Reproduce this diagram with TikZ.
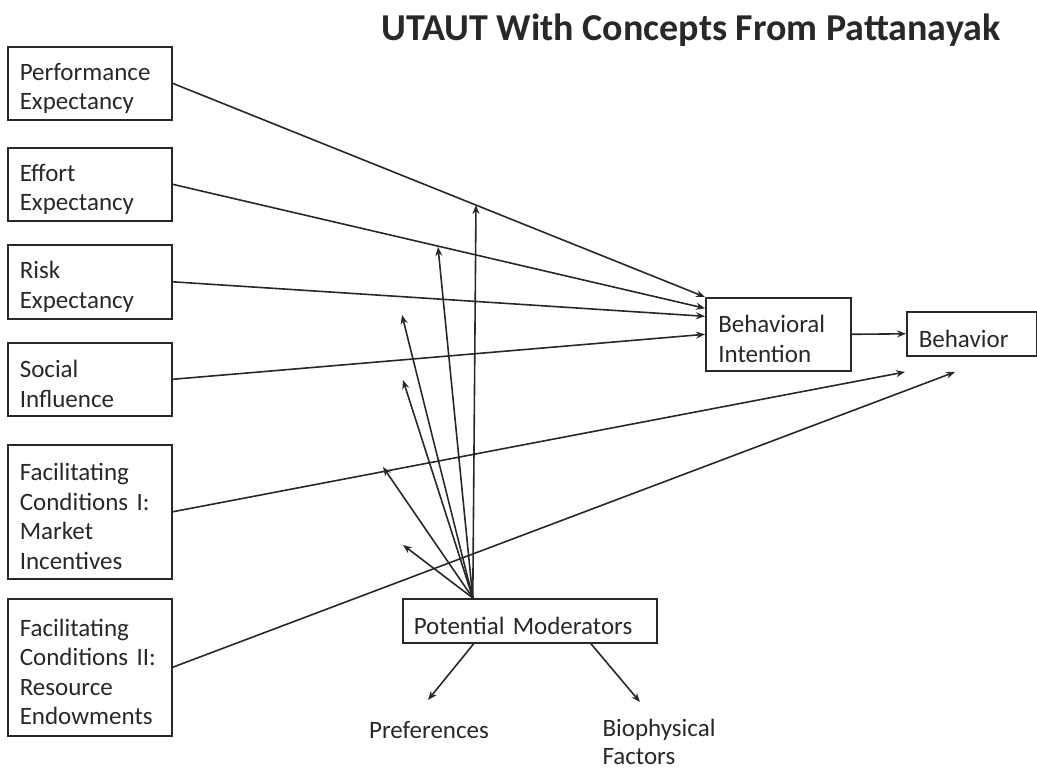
\documentclass[tikz,border=0pt]{standalone}
\usepackage{fontspec}
\setmainfont{Carlito}
\usetikzlibrary{arrows.meta}
\definecolor{inkgray}{RGB}{40,40,40}
\tikzset{
    construct-box/.style = {draw=inkgray, line width=1.6pt, rectangle, anchor=north west, align=left, text=inkgray, inner xsep=12pt, inner ysep=0pt, font=\fontsize{25}{29.5}\selectfont, execute at begin node={\rule{0pt}{27pt}}},
    plain-label/.style = {text=inkgray, align=left, font=\fontsize{25}{28}\selectfont},
    path-arrow/.style = {draw=inkgray, line width=1.6pt, -{Stealth[length=9pt,width=7pt]}},
}

\begin{document}
\begin{tikzpicture}[x=1pt,y=-1pt]
\useasboundingbox (0,0) rectangle (1037,770);
\node[text=inkgray, font=\fontsize{38}{44}\selectfont\bfseries] (title) at (691,30) {UTAUT With Concepts From Pattanayak};

% constructs on the left
\node[construct-box, text width=140pt, minimum height=73pt] (perf) at (7,46) {Performance\\Expectancy};
\node[construct-box, text width=140pt, minimum height=73pt] (effort) at (7,147) {Effort\\Expectancy};
\node[construct-box, text width=140pt, minimum height=74pt] (risk) at (7,244) {Risk\\Expectancy};
\node[construct-box, text width=140pt, minimum height=73pt] (social) at (7,342) {Social\\Influence};
\node[construct-box, text width=140pt, minimum height=134pt] (facil-one) at (7,444) {Facilitating\\Conditions I:\\Market\\Incentives};
\node[construct-box, text width=140pt, minimum height=137pt] (facil-two) at (7,598) {Facilitating\\Conditions II:\\Resource\\Endowments};

% outcomes
\node[construct-box, text width=120pt, inner xsep=12.5pt, minimum height=73pt] (intent) at (705,297) {Behavioral\\Intention};
\node[construct-box, text width=106pt, minimum height=44pt] (behavior) at (906,311) {Behavior};

% moderators
\node[construct-box, text width=232pt, inner xsep=11pt, minimum height=44pt] (moder) at (402,598) {Potential Moderators};
\node[plain-label] (pref) at (429,730) {Preferences};
\node[plain-label, anchor=west] (bio) at (599,742) {Biophysical\\Factors};

\draw[path-arrow] (perf.east) -- (intent.north west);
\draw[path-arrow] (effort.east) -- ([yshift=26pt]intent.west);
\draw[path-arrow] (risk.east) -- ([yshift=18pt]intent.west);
\draw[path-arrow] (social.east) -- (intent.west);
\draw[path-arrow] (intent.east) -- (behavior.west);

\coordinate (behav-in) at (905,372);
\coordinate (behav-res) at (955,372);
\draw[path-arrow] (facil-one.east) -- (behav-in);
\draw[path-arrow] (facil-two.east) -- (behav-res);

\coordinate (mod-src) at ([xshift=-57pt]moder.north);
\foreach \nm/\px/\py in {a/476/205, b/438/247, c/402/315, d/403/380, e/383/467, f/403/545}
    \coordinate (mod-\nm) at (\px,\py);
\foreach \nm in {a,b,c,d,e,f}
    \draw[path-arrow] (mod-src) -- (mod-\nm);

\coordinate (pref-tip) at (428,700);
\coordinate (bio-tip) at (640,702);
\draw[path-arrow] ([xshift=-56pt]moder.south) -- (pref-tip);
\draw[path-arrow] ([xshift=61pt]moder.south) -- (bio-tip);
\end{tikzpicture}
\end{document}
